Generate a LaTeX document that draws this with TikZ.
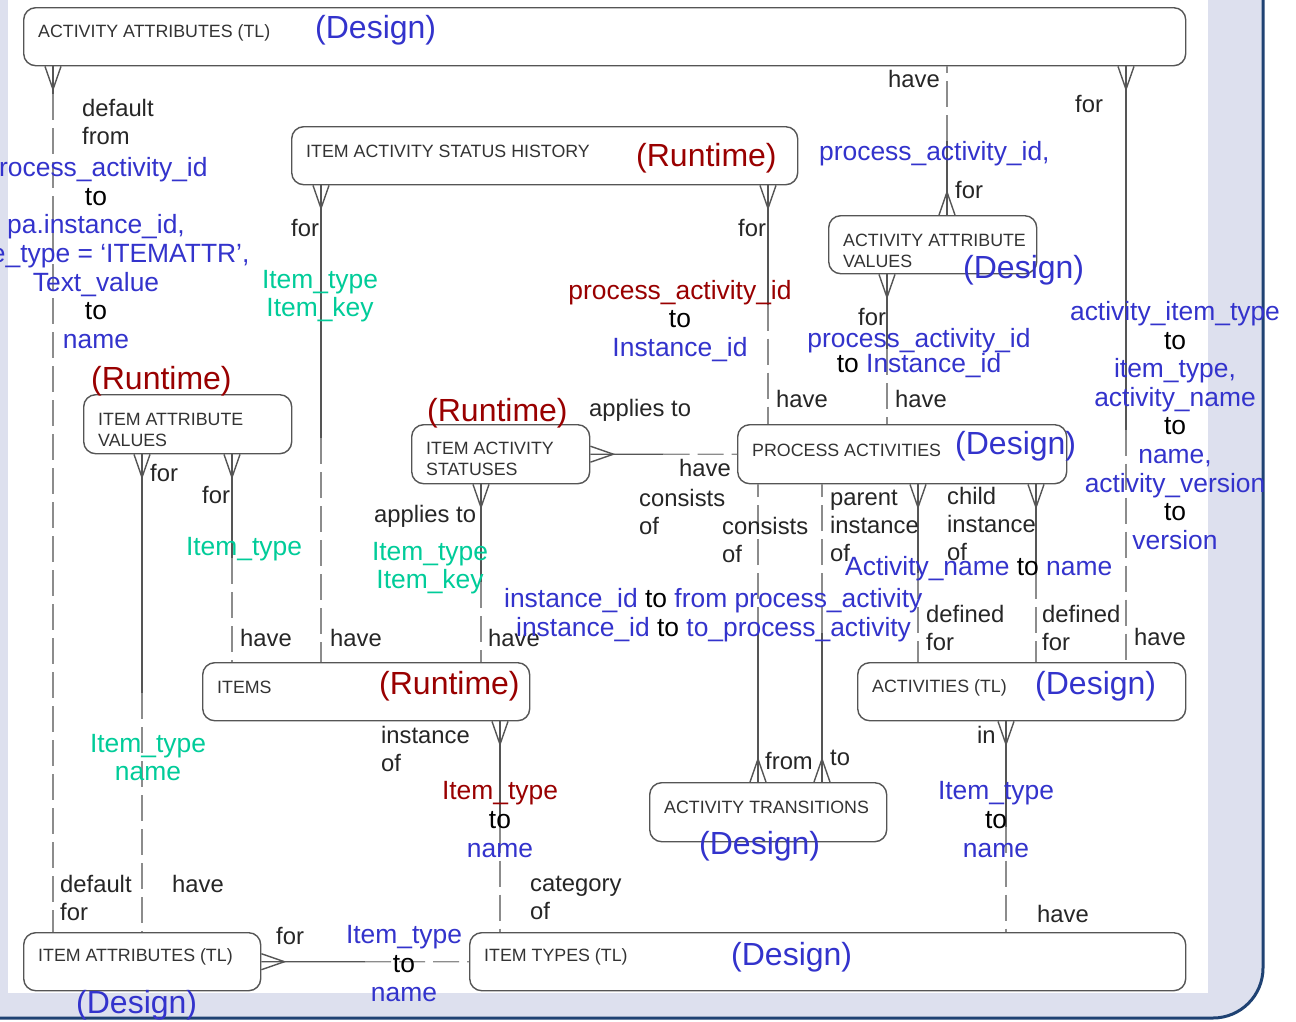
\documentclass[tikz,border=0pt]{standalone}
\usepackage{fontspec}
\setmainfont{Liberation Sans}
\usetikzlibrary{positioning, calc, arrows.meta}
\definecolor{dsgblue}{RGB}{51,51,204}
\definecolor{rtred}{RGB}{153,0,0}
\definecolor{keygreen}{RGB}{0,204,153}
\definecolor{slidebg}{RGB}{221,224,238}
\definecolor{slideedge}{RGB}{31,66,115}
\definecolor{linegray}{RGB}{85,85,85}
\definecolor{dashgray}{RGB}{140,140,140}

\pgfdeclarearrow{
	name=crow,
	parameters={\the\pgfarrowlength,\the\pgfarrowwidth},
	setup code={
		\pgfarrowssettipend{0pt}
		\pgfarrowssetlineend{0pt}
		\pgfarrowssetbackend{-\pgfarrowlength}
		\pgfarrowssavethe\pgfarrowlength
		\pgfarrowssavethe\pgfarrowwidth
	},
	drawing code={
		\pgfpathmoveto{\pgfqpoint{0pt}{.5\pgfarrowwidth}}
		\pgfpathlineto{\pgfqpoint{-\pgfarrowlength}{0pt}}
		\pgfpathlineto{\pgfqpoint{0pt}{-.5\pgfarrowwidth}}
		\pgfusepathqstroke
	},
	defaults={length=23pt,width=16pt}
}

\begin{document}
\begin{tikzpicture}[x=1pt,y=-1pt,
		box/.style={draw=linegray, line width=1.4pt, rounded corners=12pt, fill=white, anchor=north west, minimum height=58pt},
		boxtxt/.style={font=\fontsize{17.8}{21}\selectfont, text=black!80, align=left, inner sep=0pt},
		rel/.style={font=\fontsize{23.8}{28}\selectfont, text=black!85, align=left, inner sep=0pt, anchor=west},
		fk/.style={font=\fontsize{26.4}{28.6}\selectfont, text=dsgblue, align=center, inner sep=0pt},
		dsg/.style={font=\fontsize{32}{36}\selectfont, text=dsgblue, inner sep=0pt, anchor=west},
		rt/.style={dsg, text=rtred},
		link/.style={draw=linegray, line width=1.4pt},
		optl/.style={draw=dashgray, line width=1.4pt, dash pattern=on 26pt off 8pt}]

		\useasboundingbox (0,0) rectangle (1296,1021);
		\fill[white] (0,0) rectangle (1296,1021);
		\draw[slideedge, fill=slidebg, line width=3pt, rounded corners=50pt] (-100,-100) rectangle (1263,1018);
		\fill[white] (8,0) rectangle (1208,993);

		\node[box, minimum width=1162pt] (aat) at (23,7) {};
		\node[box, minimum width=506pt] (iash) at (291,126) {};
		\node[box, minimum width=208pt] (aav) at (828,215) {};
		\node[box, minimum width=208pt, minimum height=59pt] (iav) at (83,394) {};
		\node[box, minimum width=178pt, minimum height=59pt] (ias) at (411,424) {};
		\node[box, minimum width=329pt, minimum height=59pt] (pa) at (737,424) {};
		\node[box, minimum width=327pt] (items) at (202,662) {};
		\node[box, minimum width=328pt] (act) at (857,662) {};
		\node[box, minimum width=237pt, minimum height=59pt] (atr) at (649,782) {};
		\node[box, minimum width=237pt] (iat) at (23,932) {};
		\node[box, minimum width=716pt] (ity) at (469,932) {};

		\node[boxtxt, right=15pt of aat.west, yshift=4pt] (aat-l) {ACTIVITY ATTRIBUTES (TL)};
		\node[boxtxt, right=15pt of iash.west, yshift=4pt] (iash-l) {ITEM ACTIVITY STATUS HISTORY};
		\node[boxtxt, right=15pt of aav.west, yshift=-6pt] (aav-l) {ACTIVITY ATTRIBUTE\\VALUES};
		\node[boxtxt, right=15pt of iav.west, yshift=-6pt] (iav-l) {ITEM ATTRIBUTE\\VALUES};
		\node[boxtxt, right=15pt of ias.west, yshift=-5pt] (ias-l) {ITEM ACTIVITY\\STATUSES};
		\node[boxtxt, right=15pt of pa.west, yshift=4pt] (pa-l) {PROCESS ACTIVITIES};
		\node[boxtxt, right=15pt of items.west, yshift=4pt] (items-l) {ITEMS};
		\node[boxtxt, right=15pt of act.west, yshift=4pt] (act-l) {ACTIVITIES (TL)};
		\node[boxtxt, right=15pt of atr.west, yshift=5pt] (atr-l) {ACTIVITY TRANSITIONS};
		\node[boxtxt, right=15pt of iat.west, yshift=5pt] (iat-l) {ITEM ATTRIBUTES (TL)};
		\node[boxtxt, right=15pt of ity.west, yshift=5pt] (ity-l) {ITEM TYPES (TL)};

		\node[dsg] (aat-d) at (315,30) {(Design)};
		\node[rt] (iash-r) at (636,158) {(Runtime)};
		\node[dsg] (aav-d) at (963,270) {(Design)};
		\node[rt] (iav-r) at (91,381) {(Runtime)};
		\node[rt] (ias-r) at (427,413) {(Runtime)};
		\node[dsg] (pa-d) at (955,446) {(Design)};
		\node[rt] (items-r) at (379,686) {(Runtime)};
		\node[dsg] (act-d) at (1035,686) {(Design)};
		\node[dsg] (atr-d) at (699,846) {(Design)};
		\node[dsg] (ity-d) at (731,957) {(Design)};
		\node[dsg] (iat-d) at (76,1005) {(Design)};

		\draw[link, crow-] (aat.south -| 53,0) -- ++(0,28) coordinate (a);
		\draw[optl] (a) -- (iat.north -| 53,0);
		\draw[link, crow-] (iav.south -| 142,0) -- ($(iav.south -| 142,0)!.5!(iat.north -| 142,0)$) coordinate (b);
		\draw[optl] (b) -- (iat.north -| 142,0);
		\draw[link, crow-] (iav.south -| 232,0) -- ($(iav.south -| 232,0)!.5!(items.north -| 232,0)$) coordinate (c);
		\draw[optl] (c) -- (items.north -| 232,0);
		\draw[link, crow-] (iash.south -| 321,0) -- ($(iash.south -| 321,0)!.53!(items.north -| 321,0)$) coordinate (d);
		\draw[optl] (d) -- (items.north -| 321,0);
		\draw[link, crow-] (iash.south -| 768,0) -- ($(iash.south -| 768,0)!.5!(pa.north -| 768,0)$) coordinate (e);
		\draw[optl] (e) -- (pa.north -| 768,0);
		\draw[link, crow-] (aav.north -| 947,0) -- ($(aav.north -| 947,0)!.5!(aat.south -| 947,0)$) coordinate (f);
		\draw[optl] (f) -- (aat.south -| 947,0);
		\draw[link, crow-] (aav.south -| 887,0) -- ($(aav.south -| 887,0)!.5!(pa.north -| 887,0)$) coordinate (g);
		\draw[optl] (g) -- (pa.north -| 887,0);
		\draw[link, crow-] (aat.south -| 1126,0) -- ($(aat.south -| 1126,0)!.61!(act.north -| 1126,0)$) coordinate (h);
		\draw[optl] (h) -- (act.north -| 1126,0);
		\draw[link, crow-] (ias.east) -- ($(ias.east)!.5!(pa.west)$) coordinate (i);
		\draw[optl] (i) -- (pa.west);
		\draw[link, crow-] (ias.south -| 481,0) -- ($(ias.south -| 481,0)!.55!(items.north -| 481,0)$) coordinate (j);
		\draw[optl] (j) -- (items.north -| 481,0);
		\draw[link, crow-] (atr.north -| 758,0) -- ($(atr.north -| 758,0)!.5!(pa.south -| 758,0)$) coordinate (k);
		\draw[optl] (k) -- (pa.south -| 758,0);
		\draw[link, crow-] (atr.north -| 822,0) -- ($(atr.north -| 822,0)!.5!(pa.south -| 822,0)$) coordinate (l);
		\draw[optl] (l) -- (pa.south -| 822,0);
		\draw[link, crow-] (pa.south -| 918,0) -- ($(pa.south -| 918,0)!.5!(act.north -| 918,0)$) coordinate (m);
		\draw[optl] (m) -- (act.north -| 918,0);
		\draw[link, crow-] (pa.south -| 1036,0) -- ($(pa.south -| 1036,0)!.5!(act.north -| 1036,0)$) coordinate (n);
		\draw[optl] (n) -- (act.north -| 1036,0);
		\draw[link, crow-] (items.south -| 500,0) -- ($(items.south -| 500,0)!.5!(ity.north -| 500,0)$) coordinate (o);
		\draw[optl] (o) -- (ity.north -| 500,0);
		\draw[link, crow-] (act.south -| 1006,0) -- ($(act.south -| 1006,0)!.5!(ity.north -| 1006,0)$) coordinate (p);
		\draw[optl] (p) -- (ity.north -| 1006,0);
		\draw[link, crow-] (iat.east) -- ($(iat.east)!.5!(ity.west)$) coordinate (q);
		\draw[optl] (q) -- (ity.west);

		\node[rel] (r1) at (888,79) {have};
		\node[rel] (r2) at (1075,104) {for};
		\node[rel] (r3) at (82,121.5) {default\\from};
		\node[rel] (r4) at (291,228) {for};
		\node[rel] (r5) at (738,228) {for};
		\node[rel] (r6) at (955,190) {for};
		\node[rel] (r7) at (858,317) {for};
		\node[rel] (r8) at (589,410.5) {applies to};
		\node[rel] (r9) at (776,399) {have};
		\node[rel] (r10) at (895,399) {have};
		\node[rel] (r11) at (679,468) {have};
		\node[rel] (r12) at (150,473) {for};
		\node[rel] (r13) at (202,495) {for};
		\node[rel] (r14) at (374,516.5) {applies to};
		\node[rel] (r15) at (639,512) {consists\\of};
		\node[rel] (r16) at (722,540) {consists\\of};
		\node[rel] (r17) at (830,526) {parent\\instance\\of};
		\node[rel] (r18) at (947,523.5) {child\\instance\\of};
		\node[rel] (r19) at (926,628) {defined\\for};
		\node[rel] (r20) at (1042,628) {defined\\for};
		\node[rel] (r21) at (240,638) {have};
		\node[rel] (r22) at (330,638) {have};
		\node[rel] (r23) at (488,638) {have};
		\node[rel] (r24) at (1134,637) {have};
		\node[rel] (r25) at (381,749) {instance\\of};
		\node[rel] (r26) at (977,735) {in};
		\node[rel] (r27) at (765,761) {from};
		\node[rel] (r28) at (830,758) {to};
		\node[rel] (r29) at (60,897.5) {default\\for};
		\node[rel] (r30) at (172,884) {have};
		\node[rel] (r31) at (530,898) {category\\of};
		\node[rel] (r32) at (1037,914) {have};
		\node[rel] (r33) at (276,936) {for};

		\node[fk] (k1) at (96,253) {process\_activity\_id\\\textcolor{black}{to}\\pa.instance\_id,\\value\_type = ‘ITEMATTR’,\\Text\_value\\\textcolor{black}{to}\\name};
		\node[fk, text=keygreen] (k2) at (320,296) {Item\_type\\Item\_key};
		\node[fk] (k3) at (680,321) {\textcolor{rtred}{process\_activity\_id}\\\textcolor{black}{to}\\Instance\_id};
		\node[fk, anchor=west] (k4) at (819,154) {process\_activity\_id,};
		\node[fk, font=\fontsize{26.4}{24}\selectfont] (k5) at (919,353) {process\_activity\_id\\\textcolor{black}{to} Instance\_id};
		\node[fk] (k6) at (1175,425.5) {activity\_item\_type\\\textcolor{black}{to}\\item\_type,\\activity\_name\\\textcolor{black}{to}\\name,\\activity\_version\\\textcolor{black}{to}\\version};
		\node[fk, text=keygreen] (k7) at (244,549) {Item\_type};
		\node[fk, text=keygreen] (k8) at (430,568) {Item\_type\\Item\_key};
		\node[fk, anchor=west] (k9) at (845,569) {Activity\_name \textcolor{black}{to} name};
		\node[fk, anchor=west] (k10) at (504,601) {instance\_id \textcolor{black}{to} from process\_activity};
		\node[fk, anchor=west] (k11) at (516,630) {instance\_id \textcolor{black}{to} to\_process\_activity};
		\node[fk, text=keygreen] (k12) at (148,757.5) {Item\_type\\name};
		\node[fk] (k13) at (500,819.5) {\textcolor{rtred}{Item\_type}\\\textcolor{black}{to}\\name};
		\node[fk] (k14) at (996,819.5) {Item\_type\\\textcolor{black}{to}\\name};
		\node[fk] (k15) at (404,963.5) {Item\_type\\\textcolor{black}{to}\\name};
\end{tikzpicture}
\end{document}
